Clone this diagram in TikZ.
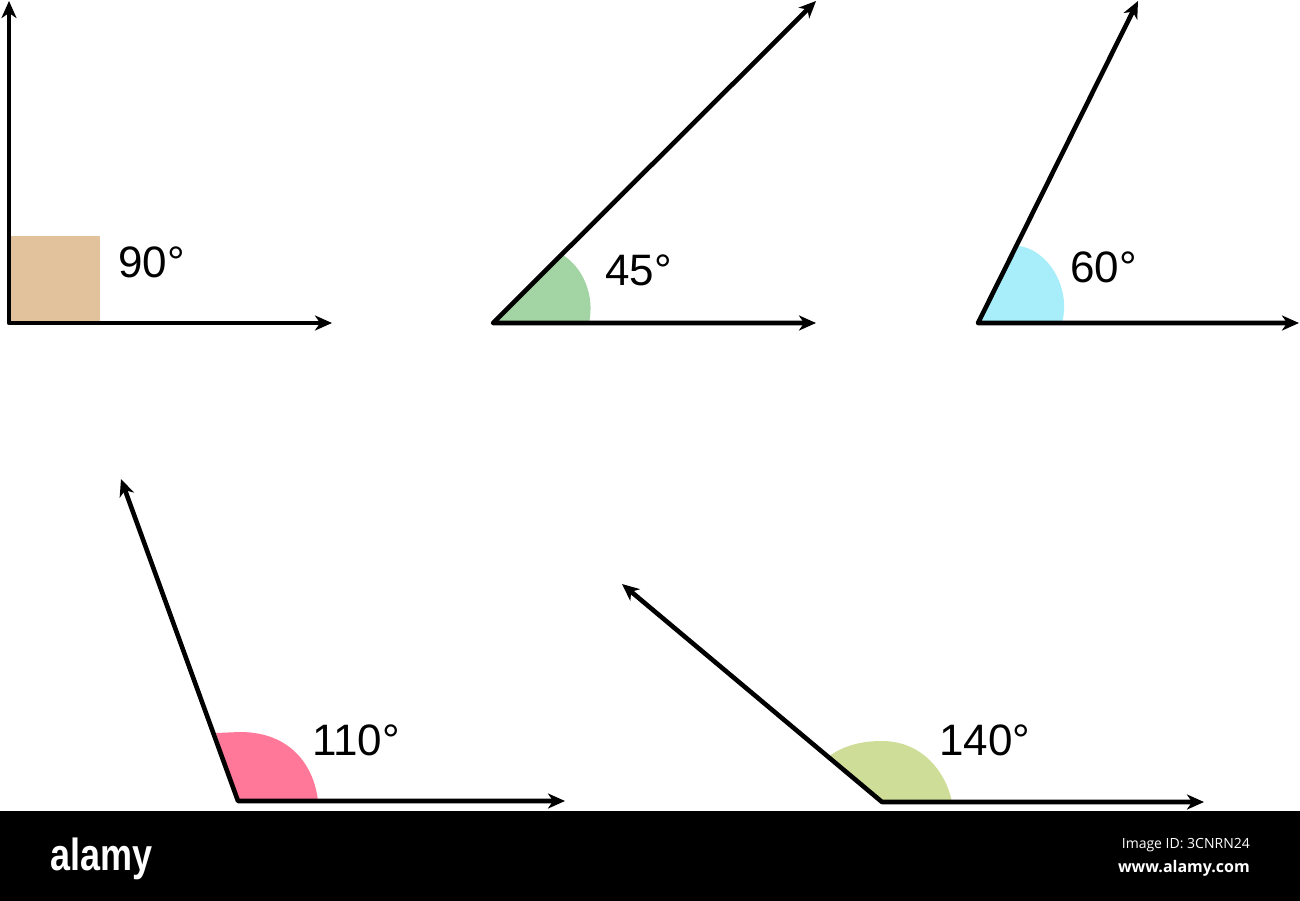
\documentclass[tikz,border=0pt]{standalone}
\usepackage{fontspec}
\setmainfont{Liberation Sans}
\newfontfamily\wmfont{Open Sans}
\usetikzlibrary{arrows.meta}
\begin{document}
\begin{tikzpicture}[x=1pt,y=-1pt,
  ray/.style={line width=4.6pt,line join=round,{Stealth[length=17pt,width=15pt,inset=5pt]}-{Stealth[length=17pt,width=15pt,inset=5pt]}},
  lbl/.style={anchor=base west,inner sep=0pt,font=\fontsize{44}{50}\selectfont},
  wm/.style={text=white,inner sep=0pt}]
\useasboundingbox (0,0) rectangle (1300,901);
\fill[white] (0,0) rectangle (1300,901);
\definecolor{tan}{HTML}{E2C29C}
\definecolor{grn}{HTML}{A3D4A3}
\definecolor{cyn}{HTML}{A7EEFA}
\definecolor{pnk}{HTML}{FF7799}
\definecolor{lim}{HTML}{CEDE98}
% vertices and ends
\coordinate (v1) at (9,323);   \coordinate (a1) at (9,1);     \coordinate (b1) at (332,323);
\coordinate (v2) at (493,323); \coordinate (a2) at (816,1);   \coordinate (b2) at (816,323);
\coordinate (v3) at (978,323); \coordinate (a3) at (1138,1);  \coordinate (b3) at (1299,323);
\coordinate (v4) at (238,801); \coordinate (a4) at (121,479); \coordinate (b4) at (565,801);
\coordinate (v5) at (882,802); \coordinate (a5) at (622,584); \coordinate (b5) at (1204,802);
% fills
\fill[tan] (9,236) rectangle (100,323);
\fill[grn] (v2) -- (563,255) .. controls (583,268) and (595,295) .. (589,323) -- cycle;
\fill[cyn] (v3) -- (1018,246) .. controls (1045,248) and (1072,285) .. (1062,323) -- cycle;
\fill[pnk] (v4) -- (216,733) -- (240,732) .. controls (290,732) and (314,765) .. (318,801) -- cycle;
\fill[lim] (v5) -- (828,757) .. controls (845,744) and (865,741) .. (882,741) .. controls (922,741) and (946,772) .. (952,802) -- cycle;
% rays
\draw[ray] (a1) -- (v1) -- (b1);
\draw[ray] (a2) -- (v2) -- (b2);
\draw[ray] (a3) -- (v3) -- (b3);
\draw[ray] (a4) -- (v4) -- (b4);
\draw[ray] (a5) -- (v5) -- (b5);
% labels
\node[lbl] (l1) at (118,277) {90°};
\node[lbl] (l2) at (605,285) {45°};
\node[lbl] (l3) at (1070,282) {60°};
\node[lbl] (l4) at (312,755) {110°};
\node[lbl] (l5) at (939,755) {140°};
% watermark bar
\fill[black] (0,811) rectangle (1300,901);
\node[wm,anchor=base west] (w1) at (50,870) {\scalebox{0.8}[1]{\fontsize{45}{50}\selectfont\bfseries alamy}};
\node[wm,anchor=base east] (w2) at (1250,848) {\wmfont\fontsize{14}{16}\selectfont Image ID: 3CNRN24};
\node[wm,anchor=base east] (w3) at (1250,872) {\wmfont\fontsize{16}{18}\selectfont\bfseries www.alamy.com};
\end{tikzpicture}
\end{document}
